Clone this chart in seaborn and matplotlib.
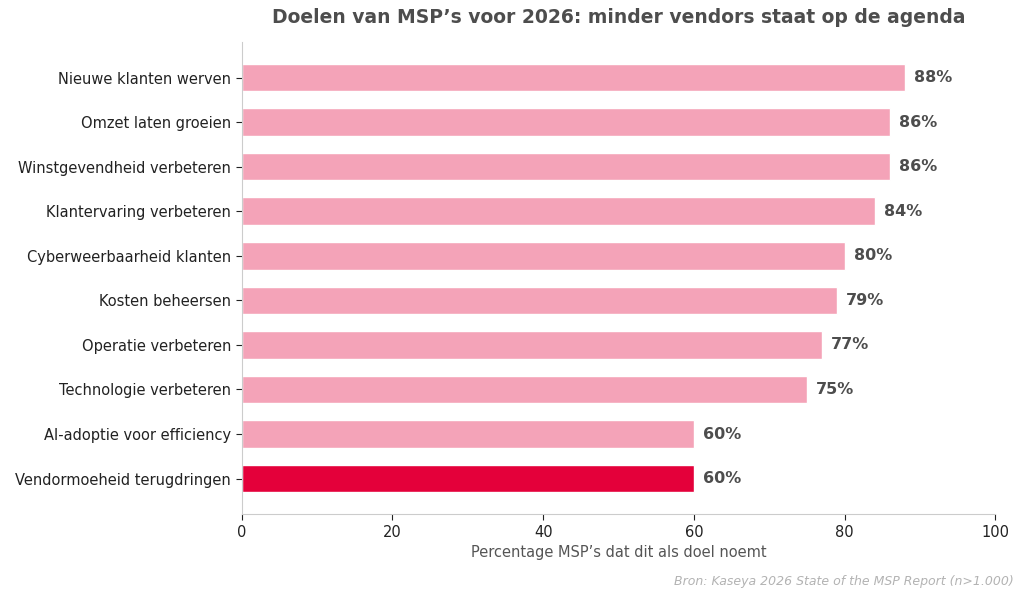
import matplotlib
matplotlib.use("Agg")
import matplotlib.pyplot as plt
import seaborn as sns
import pandas as pd

doelen = ["Nieuwe klanten werven", "Omzet laten groeien", "Winstgevendheid verbeteren",
          "Klantervaring verbeteren", "Cyberweerbaarheid klanten", "Kosten beheersen",
          "Operatie verbeteren", "Technologie verbeteren", "AI-adoptie voor efficiency",
          "Vendormoeheid terugdringen"]
percentages = [88, 86, 86, 84, 80, 79, 77, 75, 60, 60]
kleuren = ["#F4A3B8"] * 9 + ["#E4003A"]

df = pd.DataFrame({"doel": doelen, "pct": percentages})

sns.set_style("white")
fig = plt.figure(figsize=(10.24, 5.98), dpi=100)
ax = fig.add_axes([0.236, 0.14, 0.736, 0.79])
sns.barplot(data=df, x="pct", y="doel", hue="doel", palette=kleuren,
            legend=False, width=0.62, saturation=1, ax=ax)

for i, v in enumerate(percentages):
    ax.text(v + 1.2, i, f"{v}%", va="center", ha="left", fontsize=11.5,
            fontweight="bold", color="#4d4d4d")

ax.set_xlim(0, 100)
ax.set_ylim(9.8, -0.8)
ax.set_xticks([0, 20, 40, 60, 80, 100])
ax.set_ylabel("")
ax.set_xlabel("Percentage MSP\u2019s dat dit als doel noemt", fontsize=10.5, color="#555555")
ax.tick_params(axis="both", labelsize=10.5, colors="#222222", length=4, left=True, bottom=True)
for s in ["top", "right"]:
    ax.spines[s].set_visible(False)
for s in ["left", "bottom"]:
    ax.spines[s].set_color("#cccccc")

fig.text(0.604, 0.97, "Doelen van MSP\u2019s voor 2026: minder vendors staat op de agenda",
         ha="center", va="center", fontsize=13.5, fontweight="bold", color="#4d4d4d")
fig.text(0.99, 0.028, "Bron: Kaseya 2026 State of the MSP Report (n>1.000)",
         ha="right", va="center", fontsize=9, style="italic", color="#b3b3b3")

fig.savefig("out.png", dpi=100)
